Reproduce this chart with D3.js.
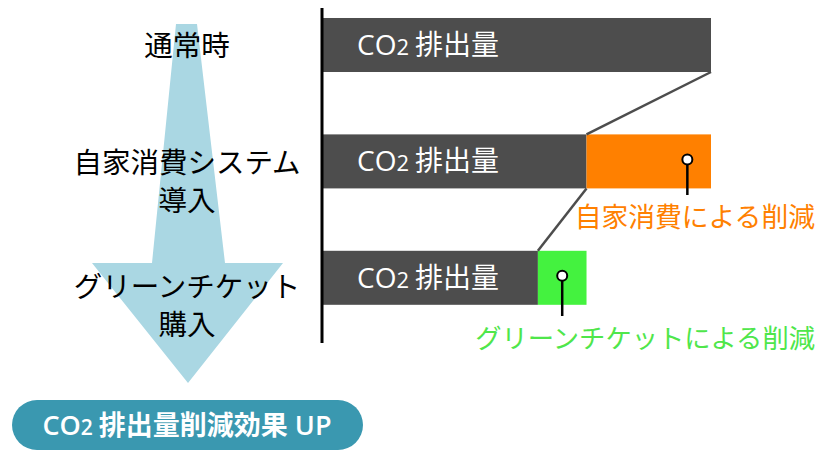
<!DOCTYPE html>
<html>
<head>
<meta charset="utf-8">
<script src="https://cdn.jsdelivr.net/npm/d3@7"></script>
<style>
  body { margin: 0; background: #fff; }
  text { font-family: "Open Sans", "Noto Sans CJK JP", sans-serif; }
</style>
</head>
<body>
<svg width="817" height="452"></svg>
<script>
// datos del grafico
const rows = ["通常時", "自家消費システム導入", "グリーンチケット購入"];
const rowLabels = [["通常時"], ["自家消費システム", "導入"], ["グリーンチケット", "購入"]];
const emissions = [100, 68, 55.5];
const reductions = [0, 32, 12.5];
const reductionLabels = ["", "自家消費による削減", "グリーンチケットによる削減"];
const barLabel = "排出量";
const resultLabel = "排出量削減効果 UP";

const svg = d3.select("svg");

const x = d3.scaleLinear()
  .domain([0, 100])
  .range([322, 711]);

const y = d3.scaleBand()
  .domain(rows)
  .range([0, 322.8])
  .paddingInner(0.536)
  .paddingOuter(0.1546);

const redColors = [null, "#ff8000", "#44f23f"];
const redText = [null, "#ff8000", "#4fe64b"];

// flecha de fondo
svg.append("path")
  .attr("d", "M176,24 L197,24 L225,263 L283,263 L188,383 L92,263 L152,263 Z")
  .attr("fill", "#aad7e3");

// etiquetas de la izquierda
const lineShift = [-2, -1, 7];
rowLabels.forEach(function(lines, i) {
  const cy = y(rows[i]) + y.bandwidth() / 2 + lineShift[i];
  lines.forEach(function(t, j) {
    svg.append("text")
      .attr("x", 187)
      .attr("y", cy + j * 38)
      .attr("text-anchor", "middle")
      .attr("dominant-baseline", "central")
      .style("font-family", "'Noto Sans CJK JP'")
      .style("font-size", "28.5px")
      .attr("fill", "#000")
      .text(t);
  });
});

// barras de emisiones
svg.selectAll("rect.emis")
  .data(emissions)
  .enter().append("rect")
  .attr("class", "emis")
  .attr("x", x(0))
  .attr("y", (d, i) => y(rows[i]))
  .attr("width", d => x(d) - x(0))
  .attr("height", y.bandwidth())
  .attr("fill", "#4d4d4d");

// barras de reduccion
svg.selectAll("rect.red")
  .data(reductions)
  .enter().append("rect")
  .attr("class", "red")
  .attr("x", (d, i) => x(emissions[i]))
  .attr("y", (d, i) => y(rows[i]))
  .attr("width", d => x(d) - x(0))
  .attr("height", y.bandwidth())
  .attr("fill", (d, i) => redColors[i] || "none");

// lineas de conexion entre barras
for (let i = 1; i < rows.length; i++) {
  svg.append("line")
    .attr("x1", x(emissions[i - 1]))
    .attr("y1", y(rows[i - 1]) + y.bandwidth())
    .attr("x2", x(emissions[i]))
    .attr("y2", y(rows[i]))
    .attr("stroke", "#4d4d4d")
    .attr("stroke-width", 2.5);
}

// texto dentro de las barras (linea base comun para que el "2" quede abajo)
emissions.forEach(function(d, i) {
  const t = svg.append("text")
    .attr("x", 357)
    .attr("y", y(rows[i]) + y.bandwidth() / 2 + 10)
    .attr("fill", "#fff")
    .style("font-size", "28px");
  t.append("tspan").text("CO");
  t.append("tspan").style("font-size", "22px").text("2");
  t.append("tspan").attr("dx", 6).text(barLabel);
});

// marcadores y etiquetas de reduccion
const markerPos = [0, 0.81, 0.5];
const labelY = [0, 215, 336];
reductions.forEach(function(d, i) {
  if (!d) return;
  const cx = x(emissions[i]) + (x(d) - x(0)) * markerPos[i];
  const cy = y(rows[i]) + y.bandwidth() / 2 - 2;
  svg.append("line")
    .attr("x1", cx).attr("x2", cx)
    .attr("y1", cy).attr("y2", labelY[i] - 20)
    .attr("stroke", "#000")
    .attr("stroke-width", 2.5);
  svg.append("circle")
    .attr("cx", cx).attr("cy", cy).attr("r", 5)
    .attr("fill", "#fff")
    .attr("stroke", "#000")
    .attr("stroke-width", 2);
  svg.append("text")
    .attr("x", 815)
    .attr("y", labelY[i])
    .attr("text-anchor", "end")
    .attr("dominant-baseline", "central")
    .style("font-family", "'Noto Sans CJK JP'")
    .style("font-size", i === 1 ? "26.8px" : "26.3px")
    .attr("fill", redText[i])
    .text(reductionLabels[i]);
});

// eje vertical
svg.append("line")
  .attr("x1", 322).attr("x2", 322)
  .attr("y1", 8).attr("y2", 343)
  .attr("stroke", "#000")
  .attr("stroke-width", 3);

// boton inferior
svg.append("rect")
  .attr("x", 12).attr("y", 400)
  .attr("width", 351).attr("height", 50)
  .attr("rx", 25)
  .attr("fill", "#3a98b0");

const res = svg.append("text")
  .attr("x", 187)
  .attr("y", 435)
  .attr("text-anchor", "middle")
  .attr("fill", "#fff")
  .style("font-weight", "600")
  .style("font-size", "27px");
res.append("tspan").text("CO");
res.append("tspan").style("font-size", "21px").text("2");
res.append("tspan").attr("dx", 6).text(resultLabel);
</script>
</body>
</html>
